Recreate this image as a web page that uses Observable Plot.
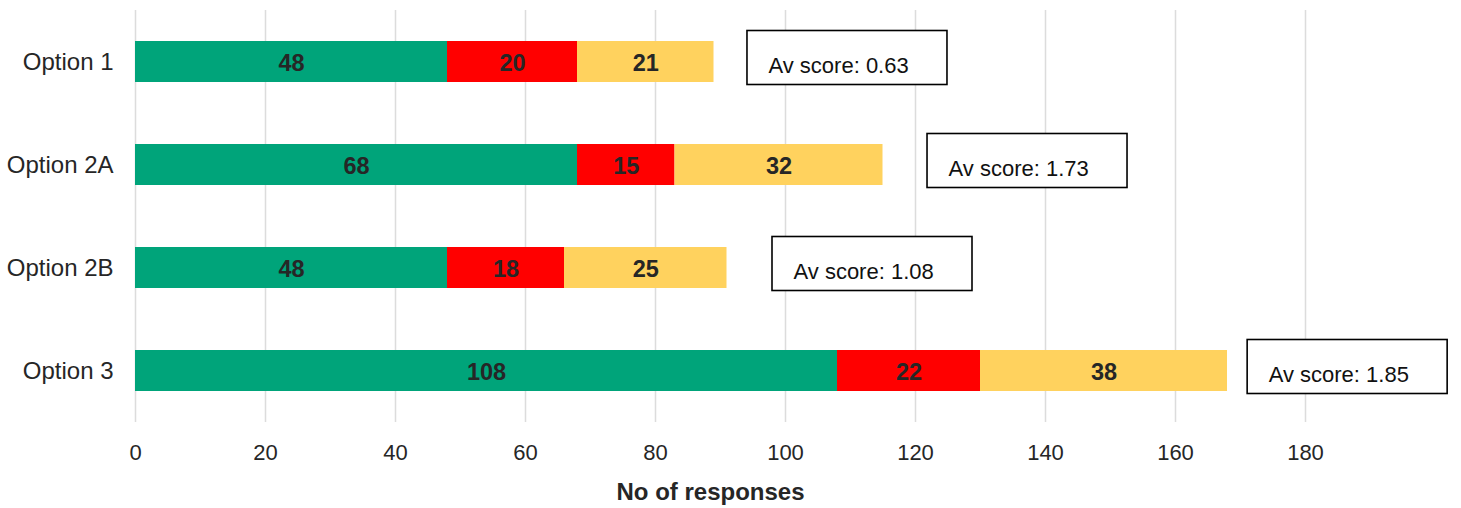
<!DOCTYPE html>
<html>
<head>
<meta charset="utf-8">
<script src="https://cdn.jsdelivr.net/npm/d3@7"></script>
<script src="https://cdn.jsdelivr.net/npm/@observablehq/plot@0.6"></script>
<style>
  html, body { margin: 0; padding: 0; background: #fff; }
</style>
</head>
<body>
<div id="chart"></div>
<script>
// ---- data ----
const options = ["Option 1", "Option 2A", "Option 2B", "Option 3"];
const categories = ["Positive", "Negative", "Neutral"];
const positive = [48, 68, 48, 108];
const negative = [20, 15, 18, 22];
const neutral = [21, 32, 25, 38];
const avScores = ["0.63", "1.73", "1.08", "1.85"];
const scoreAnchor = [94.15, 121.85, 98.0, 171.1]; // x value where each annotation box starts
const xTicks = [0, 20, 40, 60, 80, 100, 120, 140, 160, 180];
const colors = ["#00A47A", "#FF0000", "#FFD25E"];

// ---- build tables ----
const series = [positive, negative, neutral];
const rows = [];
options.forEach((opt, i) => {
  categories.forEach((cat, j) => {
    rows.push({option: opt, category: cat, value: series[j][i]});
  });
});
const notes = options.map((opt, i) => ({
  option: opt,
  x: scoreAnchor[i],
  label: "Av score: " + avScores[i]
}));
const boxW = 200 / 6.5;

const chart = Plot.plot({
  width: 1461,
  height: 508,
  marginLeft: 135,
  marginRight: 0,
  marginTop: 10,
  marginBottom: 86,
  style: {fontFamily: "'Liberation Sans', Arial, sans-serif", color: "#262626", background: "#fff"},
  x: {domain: [0, 204]},
  y: {domain: options, paddingInner: 0.6, paddingOuter: 0.295},
  color: {domain: categories, range: colors},
  marks: [
    Plot.gridX({ticks: xTicks, stroke: "#dcdcdc", strokeOpacity: 1, strokeWidth: 1.5}),
    Plot.axisX({ticks: xTicks, tickSize: 0, tickPadding: 22, fontSize: 22, label: null}),
    Plot.axisY({tickSize: 0, tickPadding: 22, fontSize: 24, label: null}),
    Plot.barX(rows, Plot.stackX({x: "value", y: "option", fill: "category", z: "category"})),
    Plot.text(rows, Plot.stackX({x: "value", y: "option", z: "category", text: "value",
      fontSize: 23.5, fontWeight: "bold", fill: "#262626", dy: 1})),
    Plot.rect(notes, {x1: "x", x2: d => d.x + boxW, y: "option", insetTop: -10.5, insetBottom: -2.5,
      fill: "white", stroke: "black", strokeWidth: 1.6}),
    Plot.text(notes, {x: "x", y: "option", text: "label", textAnchor: "start", dx: 21, dy: 4,
      fontSize: 22, fill: "#111"}),
    Plot.text(["No of responses"], {frameAnchor: "bottom", dx: -88, dy: 70, lineAnchor: "middle",
      fontSize: 24, fontWeight: "bold", fill: "#262626"})
  ]
});
document.getElementById("chart").appendChild(chart);
</script>
</body>
</html>
